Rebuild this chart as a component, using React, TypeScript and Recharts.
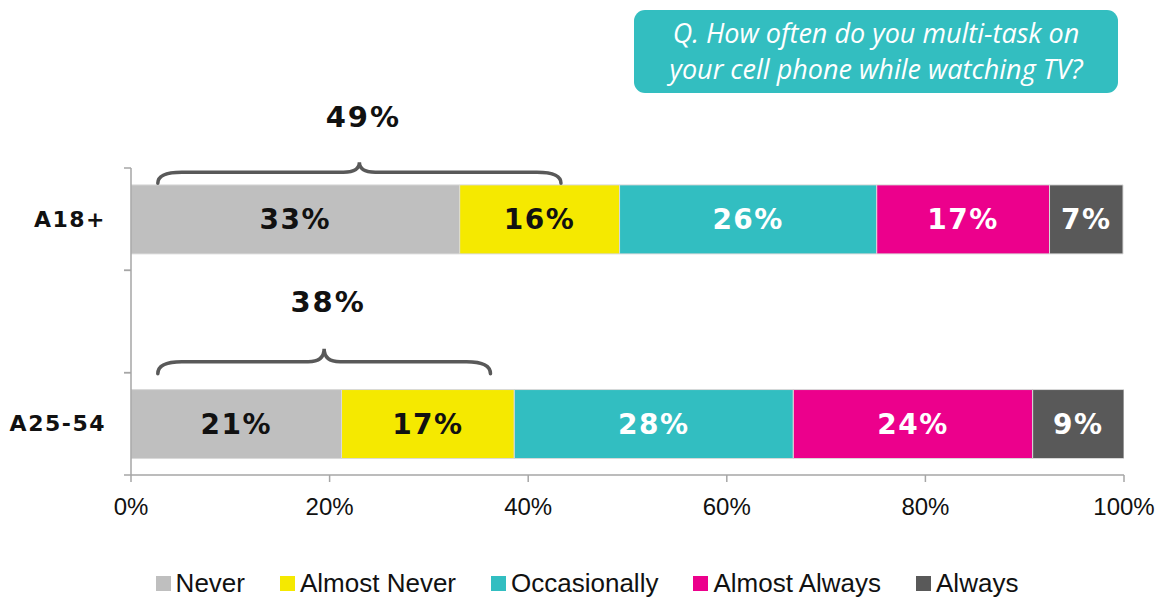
import React from 'react';
import { BarChart, Bar, XAxis, YAxis, LabelList, ReferenceLine } from 'recharts';

// rows: the empty middle row only makes room for the second brace
const categories = ['A18+', '', 'A25-54'];
const never = [33.1, null, 21.2];
const almostNever = [16.1, null, 17.4];
const occasionally = [25.9, null, 28.1];
const almostAlways = [17.4, null, 24.1];
const always = [7.4, null, 9.2];

const xTicks = [0, 20, 40, 60, 80, 100];

// braces over the "never + almost never" share
const braceLabels = ['49%', '38%'];
const braceRows = ['A18+', 'A25-54'];
const braceFrom = [2.7, 2.7];
const braceTo = [43.3, 36.2];

const question = ['Q. How often do you multi-task on', 'your cell phone while watching TV?'];

const series = [
  { key: 'never', name: 'Never', color: '#BFBFBF', text: '#111' },
  { key: 'almostNever', name: 'Almost Never', color: '#F5E900', text: '#111' },
  { key: 'occasionally', name: 'Occasionally', color: '#32BEC1', text: '#fff' },
  { key: 'almostAlways', name: 'Almost Always', color: '#EC008C', text: '#fff' },
  { key: 'always', name: 'Always', color: '#595959', text: '#fff' },
];

const data = categories.map((name, i) => ({
  name,
  never: never[i],
  almostNever: almostNever[i],
  occasionally: occasionally[i],
  almostAlways: almostAlways[i],
  always: always[i],
}));

const W = 1162;
const H = 597;
const Y_AXIS_W = 131;
const AXIS = '#A6A6A6';
const PLAIN = "'Liberation Sans', Arial, sans-serif";
const BOLD = "'DejaVu Sans', sans-serif";

// per-brace lift above the bar centre (line, end tips, peak, label)
const braceLayout = [
  { line: 47, tip: 36, peak: 57, label: 102 },
  { line: 62, tip: 50, peak: 75, label: 122 },
];

const makeBrace = (i: number) => (p: any) => {
  const { x1, x2, y1 } = p;
  const l = braceLayout[i];
  const yl = y1 - l.line;
  const yt = y1 - l.tip;
  const yp = y1 - l.peak;
  const xm = (x1 + x2) / 2;
  const r = 24;
  const r2 = 16;
  const d = `M${x1},${yt} Q${x1},${yl} ${x1 + r},${yl} L${xm - r2},${yl} Q${xm},${yl} ${xm},${yp} Q${xm},${yl} ${xm + r2},${yl} L${x2 - r},${yl} Q${x2},${yl} ${x2},${yt}`;
  return (
    <g>
      <path d={d} fill="none" stroke="#595959" strokeWidth={3.5} strokeLinecap="round" />
      <text
        x={xm + 4}
        y={y1 - l.label}
        textAnchor="middle"
        dominantBaseline="central"
        fontFamily={BOLD}
        fontWeight="bold"
        fontSize={29}
        letterSpacing={2}
        fill="#111"
      >
        {braceLabels[i]}
      </text>
    </g>
  );
};

const CategoryTick = (props: any) => {
  const { x, y, payload } = props;
  const half = payload && payload.offset ? payload.offset : 51;
  const ax = Y_AXIS_W;
  return (
    <g>
      <line x1={ax - 7} x2={ax} y1={y - half} y2={y - half} stroke={AXIS} strokeWidth={1.5} />
      <line x1={ax - 7} x2={ax} y1={y + half} y2={y + half} stroke={AXIS} strokeWidth={1.5} />
      <text
        x={x + 2}
        y={y}
        textAnchor="end"
        dominantBaseline="central"
        fontFamily={BOLD}
        fontWeight="bold"
        fontSize={22}
        letterSpacing={1.5}
        fill="#111"
      >
        {payload.value}
      </text>
    </g>
  );
};

const fmt = (v: any) => (v == null ? '' : `${Math.round(Number(v))}%`);

export default function App() {
  return (
    <div style={{ position: 'absolute', left: 0, top: 0, width: W, height: H, background: '#fff' }}>
      <div
        style={{
          position: 'absolute',
          left: 634,
          top: 10,
          width: 484,
          height: 83,
          background: '#33BEC0',
          borderRadius: 11,
          color: '#fff',
          fontFamily: "'Open Sans', sans-serif",
          fontStyle: 'italic',
          fontSize: 27,
          lineHeight: '36px',
          textAlign: 'center',
          paddingTop: 5,
          boxSizing: 'border-box',
        }}
      >
        {question.map((q) => (
          <div key={q}>{q}</div>
        ))}
      </div>

      <BarChart
        width={W}
        height={H}
        data={data}
        layout="vertical"
        barCategoryGap="16.5%"
        margin={{ top: 168, right: 38, bottom: 72, left: 0 }}
      >
        <XAxis
          type="number"
          domain={[0, 100]}
          ticks={xTicks}
          tickFormatter={(v) => `${v}%`}
          height={50}
          axisLine={{ stroke: AXIS, strokeWidth: 1.5 }}
          tickLine={{ stroke: AXIS, strokeWidth: 1.5 }}
          tickSize={7}
          tickMargin={16}
          tick={{ fill: '#111', fontSize: 24, fontFamily: PLAIN }}
          allowDataOverflow
        />
        <YAxis
          type="category"
          dataKey="name"
          width={Y_AXIS_W}
          axisLine={{ stroke: AXIS, strokeWidth: 1.5 }}
          tickLine={false}
          tickSize={7}
          tickMargin={20}
          tick={<CategoryTick />}
          interval={0}
        />
        {series.map((s) => (
          <Bar
            key={s.key}
            dataKey={s.key}
            name={s.name}
            stackId="a"
            fill={s.color}
            stroke="#D9D9D9"
            strokeWidth={1}
            isAnimationActive={false}
          >
            <LabelList
              dataKey={s.key}
              position="center"
              formatter={fmt}
              fill={s.text}
              fontFamily={BOLD}
              fontWeight="bold"
              fontSize={28}
              letterSpacing={1.5}
            />
          </Bar>
        ))}
        {braceRows.map((row, i) => (
          <ReferenceLine
            key={row}
            segment={[
              { x: braceFrom[i], y: row },
              { x: braceTo[i], y: row },
            ]}
            shape={makeBrace(i)}
            ifOverflow="visible"
          />
        ))}
      </BarChart>

      <div
        style={{
          position: 'absolute',
          top: 569,
          left: 6,
          width: W,
          display: 'flex',
          justifyContent: 'center',
          gap: 35,
          fontFamily: PLAIN,
          fontSize: 26,
          color: '#111',
          lineHeight: '28px',
        }}
      >
        {series.map((s) => (
          <div key={s.key} style={{ display: 'flex', alignItems: 'center' }}>
            <span style={{ width: 15, height: 15, background: s.color, marginRight: 5, display: 'inline-block' }} />
            <span>{s.name}</span>
          </div>
        ))}
      </div>
    </div>
  );
}
